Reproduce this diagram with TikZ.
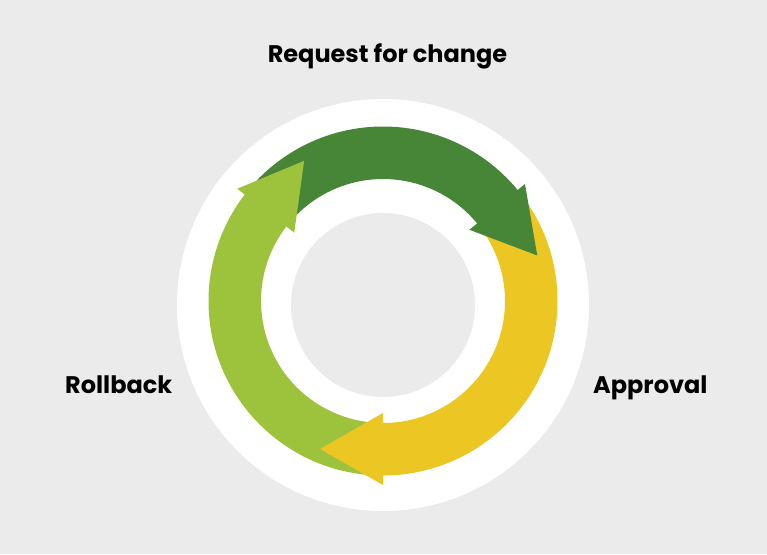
\documentclass[tikz,border=0pt]{standalone}
\usepackage{fontspec}
\setmainfont{Poppins}
\usetikzlibrary{calc}
\definecolor{bg}{HTML}{EBEBEB}
\definecolor{darkgreen}{HTML}{478636}
\definecolor{lightgreen}{HTML}{9DC33C}
\definecolor{mustard}{HTML}{ECC623}
\begin{document}
\begin{tikzpicture}[x=1pt,y=1pt]
	\tikzstyle{stage} = [font=\fontsize{24}{28}\selectfont\bfseries, inner sep=0pt]
	\def\rin{122}
	\def\rout{174.5}
	\def\rmid{148}
	\def\headw{36}
	\def\headl{63}

	\fill[bg] (-383,-253) rectangle (384,301);
	\fill[white] (0,-4) circle[radius=206];

	% arrow bodies
	\foreach \col/\from/\to in {darkgreen/141/38.5, mustard/38.5/-91, lightgreen/-91.5/-218.5}
		\fill[\col] (\from:\rout) arc[start angle=\from, end angle=\to, radius=\rout]
			-- (\to:\rin) arc[start angle=\to, end angle=\from, radius=\rin] -- cycle;

	% arrow heads
	\foreach \col/\a in {darkgreen/39.5, mustard/-90, lightgreen/142.4}
		\fill[\col] (\a:\rmid-\headw) -- (\a:\rmid+\headw) -- ($(\a:\rmid)+(\a-90:\headl)$) -- cycle;

	\fill[bg] (0,-4) circle[radius=92];

	% labels
	\node[stage, anchor=base] (request) at (4.5,238) {Request for change};
	\node[stage, anchor=base west] (rollback) at (-318,-92) {Rollback};
	\node[stage, anchor=base west] (approval) at (210,-92) {Approval};
\end{tikzpicture}
\end{document}
